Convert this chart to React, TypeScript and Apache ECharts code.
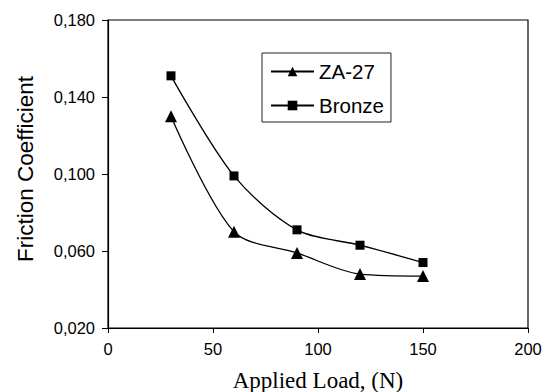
import React, { useEffect, useRef } from "react";
import * as echarts from "echarts";

const loads = [30, 60, 90, 120, 150];
const za27 = [0.130, 0.070, 0.059, 0.048, 0.047];
const bronze = [0.151, 0.099, 0.071, 0.063, 0.054];
const seriesNames = ["ZA-27", "Bronze"];

export default function App() {
  const ref = useRef<HTMLDivElement>(null);
  useEffect(() => {
    const chart = echarts.init(ref.current!, null, { renderer: "svg" });
    const mk = (arr: number[]) => loads.map((x, i) => [x, arr[i]]);
    const sans = "Liberation Sans, Arial, sans-serif";
    chart.setOption({
      animation: false,
      backgroundColor: "#fff",
      grid: {
        left: 108,
        right: 23,
        top: 20,
        bottom: 64,
        containLabel: false,
        outerBoundsMode: "none",
        show: true,
        borderColor: "#000",
        borderWidth: 1.2,
      },
      legend: {
        orient: "vertical",
        left: 262,
        top: 53,
        borderColor: "#222",
        borderWidth: 1,
        padding: [8, 7, 6, 8],
        itemGap: 13,
        itemWidth: 43,
        itemHeight: 12,
        textStyle: { fontFamily: sans, fontSize: 20.5, color: "#000" },
        data: seriesNames,
      },
      xAxis: {
        type: "value",
        min: 0,
        max: 200,
        interval: 50,
        name: "Applied Load, (N)",
        nameLocation: "middle",
        nameGap: 41,
        nameTextStyle: { fontFamily: "Liberation Serif, Times New Roman, serif", fontSize: 23, color: "#000" },
        axisLine: { show: true, lineStyle: { color: "#000", width: 1.2 } },
        axisTick: { show: true, inside: false, length: 5, lineStyle: { color: "#000" } },
        axisLabel: { fontFamily: sans, fontSize: 16.5, color: "#000", margin: 12 },
        splitLine: { show: false },
      },
      yAxis: {
        type: "value",
        min: 0.02,
        max: 0.18,
        interval: 0.04,
        name: "Friction Coefficient",
        nameLocation: "middle",
        nameGap: 71,
        nameTextStyle: { fontFamily: sans, fontSize: 22.5, color: "#000", padding: [0, 0, 0, 10] },
        axisLine: { show: true, lineStyle: { color: "#000", width: 1.2 } },
        axisTick: { show: true, inside: false, length: 6, lineStyle: { color: "#000" } },
        axisLabel: {
          fontFamily: sans,
          fontSize: 16.5,
          color: "#000",
          margin: 13,
          formatter: (v: number) => v.toFixed(3).replace(".", ","),
        },
        splitLine: { show: false },
      },
      series: [
        {
          name: seriesNames[0],
          type: "line",
          data: mk(za27),
          smooth: 0.3,
          symbol: "triangle",
          symbolSize: 12,
          itemStyle: { color: "#000" },
          lineStyle: { color: "#000", width: 1.3 },
        },
        {
          name: seriesNames[1],
          type: "line",
          data: mk(bronze),
          smooth: 0.3,
          symbol: "rect",
          symbolSize: 9,
          itemStyle: { color: "#000" },
          lineStyle: { color: "#000", width: 1.3 },
        },
      ],
    });
    return () => chart.dispose();
  }, []);
  return (
    <div
      ref={ref}
      style={{ position: "fixed", left: 0, top: 0, width: 551, height: 392, background: "#fff" }}
    />
  );
}
